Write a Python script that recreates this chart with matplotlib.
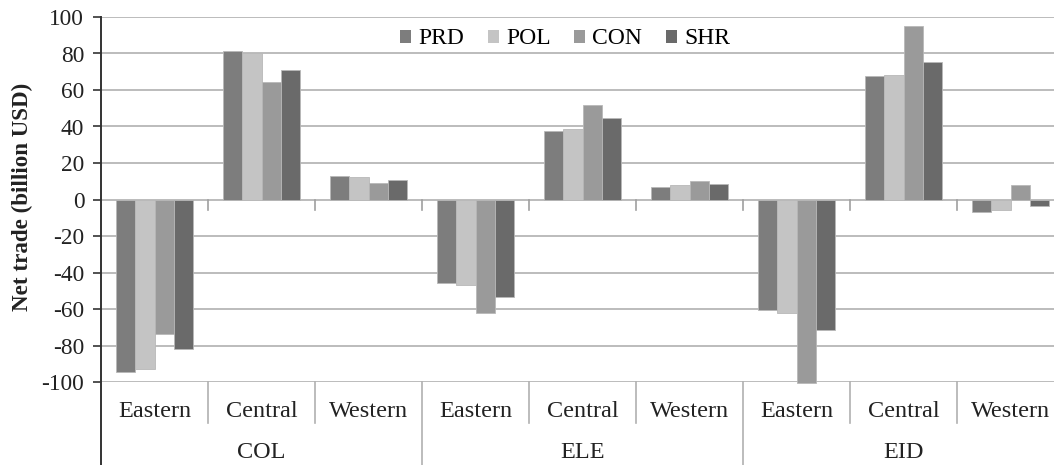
import matplotlib
matplotlib.use("Agg")
import matplotlib.pyplot as plt
from matplotlib.lines import Line2D
import matplotlib.transforms as mtransforms
import numpy as np

groups = ["COL", "ELE", "EID"]
regions = ["Eastern", "Central", "Western"]
series = ["PRD", "POL", "CON", "SHR"]
colors = ["#7d7d7d", "#c4c4c4", "#9a9a9a", "#6a6a6a"]

PRD = [-94.5, 81.4, 13.0, -45.5, 37.8, 7.1, -60.3, 67.5, -7.1]
POL = [-92.7, 80.1, 12.1, -46.8, 38.9, 7.7, -62.3, 68.2, -6.0]
CON = [-73.7, 64.2, 9.1, -62.3, 51.7, 10.2, -100.7, 94.9, 7.9]
SHR = [-81.9, 70.7, 10.6, -53.2, 44.4, 8.6, -71.7, 75.1, -3.5]
yticks = [-100, -80, -60, -40, -20, 0, 20, 40, 60, 80, 100]

plt.rcParams['font.family'] = ['Liberation Serif', 'DejaVu Serif']

W, H = 1054, 465
fig = plt.figure(figsize=(W / 100, H / 100), dpi=100)
left, right, top, bottom = 101, 1064, 17, 382
ax = fig.add_axes([left / W, 1 - bottom / H, (right - left) / W, (bottom - top) / H])

n = len(PRD)
x = np.arange(n) + 0.5
bw = 0.18
data = [PRD, POL, CON, SHR]
for k, (vals, c, name) in enumerate(zip(data, colors, series)):
    ax.bar(x + (k - 1.5) * bw, vals, width=bw, color=c, edgecolor="#b8b8b8",
           linewidth=0.6, label=name, zorder=3, clip_on=False)

ax.set_xlim(0, n)
ax.set_ylim(-100, 100)
ax.set_yticks(yticks)
ax.set_yticklabels([str(v) for v in yticks], fontsize=16.8, color="#222222")
ax.set_xticks([])
ax.grid(axis="y", color="#b0b0b0", linewidth=1.2, zorder=0)
ax.set_axisbelow(True)
for s in ["top", "right", "bottom", "left"]:
    ax.spines[s].set_visible(False)
ax.tick_params(axis="y", direction="out", length=6, width=1.2, color="#333333", pad=6)

# left axis line extended through category rows
ext = -(465 - bottom) / (bottom - top)
ax.add_line(Line2D([0, 0], [ext, 1], transform=ax.transAxes, color="#333333",
                   linewidth=1.4, clip_on=False, zorder=5))

trans = mtransforms.blended_transform_factory(ax.transData, ax.transAxes)
px = 1.0 / (bottom - top)
# small ticks below zero line at category boundaries
for b in range(1, n):
    ax.plot([b, b], [0, -6], color="#a0a0a0", linewidth=1.2, zorder=2, clip_on=False)

# separators in category area
for b in range(1, n):
    if b % 3 == 0:
        y0 = ext
    else:
        y0 = -(423 - bottom) * px
    ax.add_line(Line2D([b, b], [0, y0], transform=trans, color="#b0b0b0",
                       linewidth=1.2, clip_on=False))

for i in range(n):
    ax.text(i + 0.5, -(411 - bottom) * px, regions[i % 3], transform=trans,
            ha="center", va="center", fontsize=17.5, color="#222222")
for g, name in enumerate(groups):
    ax.text(g * 3 + 1.5, -(452 - bottom) * px, name, transform=trans,
            ha="center", va="center", fontsize=17.5, color="#222222")

fig.text(22 / W, 1 - 197 / H, "Net trade (billion USD)", rotation=90,
         ha="center", va="center", fontsize=16.6, fontweight="bold", color="#222222")

leg = ax.legend(loc="center", bbox_to_anchor=(565 / W, 1 - 39 / H),
                bbox_transform=fig.transFigure, ncol=4, frameon=False,
                fontsize=17, handlelength=0.47, handleheight=0.47,
                handletextpad=0.3, columnspacing=1.0, borderpad=0.2)
for h in leg.legend_handles:
    h.set_edgecolor("none")

fig.savefig("out.png", dpi=100)
